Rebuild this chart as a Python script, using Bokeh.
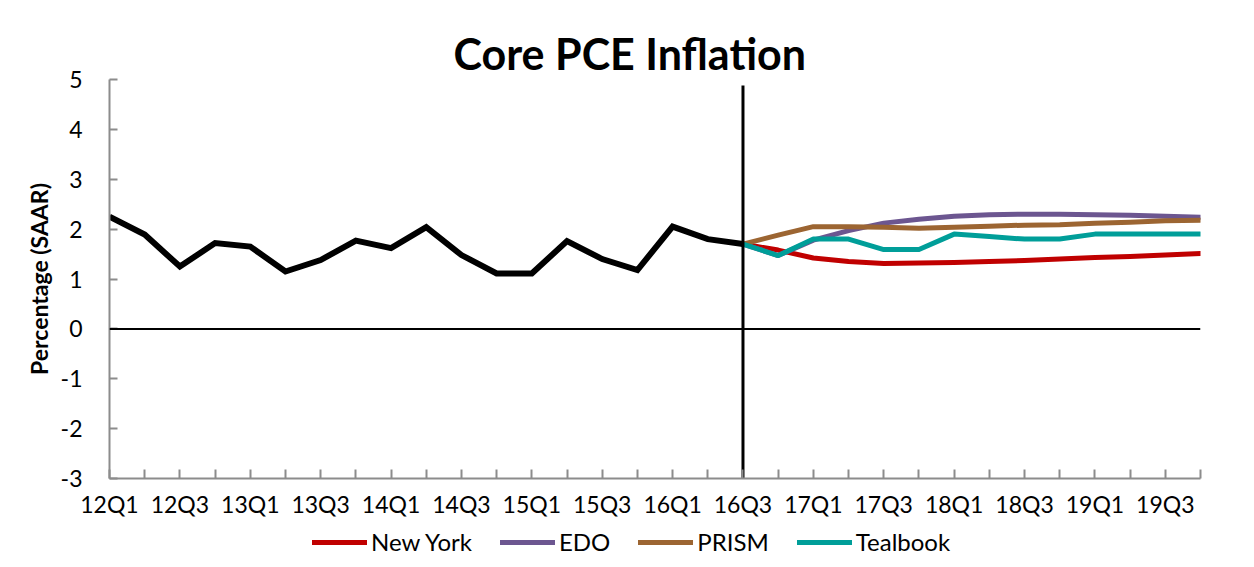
from bokeh.plotting import figure
from bokeh.layouts import column
from bokeh.models import (Range1d, FixedTicker, Span, Legend, LegendItem, Title)
from bokeh.embed import file_html
from bokeh.resources import INLINE

quarters = ["12Q1", "12Q2", "12Q3", "12Q4", "13Q1", "13Q2", "13Q3", "13Q4",
            "14Q1", "14Q2", "14Q3", "14Q4", "15Q1", "15Q2", "15Q3", "15Q4",
            "16Q1", "16Q2", "16Q3", "16Q4", "17Q1", "17Q2", "17Q3", "17Q4",
            "18Q1", "18Q2", "18Q3", "18Q4", "19Q1", "19Q2", "19Q3", "19Q4"]

history = [2.25, 1.89, 1.25, 1.72, 1.65, 1.15, 1.38, 1.77, 1.62, 2.04,
           1.48, 1.11, 1.11, 1.76, 1.40, 1.18, 2.05, 1.80, 1.70]

forecast_start = "16Q3"
new_york = [1.70, 1.58, 1.42, 1.35, 1.31, 1.32, 1.33, 1.35, 1.37, 1.40, 1.43, 1.45, 1.48, 1.51]
edo      = [1.70, 1.47, 1.78, 1.97, 2.12, 2.20, 2.26, 2.29, 2.30, 2.30, 2.29, 2.28, 2.26, 2.24]
prism    = [1.70, 1.88, 2.05, 2.05, 2.04, 2.02, 2.04, 2.06, 2.08, 2.09, 2.12, 2.14, 2.17, 2.18]
tealbook = [1.70, 1.47, 1.80, 1.80, 1.59, 1.59, 1.90, 1.85, 1.80, 1.80, 1.90, 1.90, 1.90, 1.90]

series_names = ["New York", "EDO", "PRISM", "Tealbook"]
series_colors = ["#C00000", "#6C5690", "#9C6532", "#009E99"]

y_ticks = [5, 4, 3, 2, 1, 0, -1, -2, -3]
y_tick_labels = ["5", "4", "3", "2", "1", "0", "-1", "-2", "-3"]

FONT = "Lato"
TOTAL_W = 109 + 1091 + 45

p = figure(frame_width=1091, frame_height=399, output_backend="svg", toolbar_location=None,
           x_range=Range1d(0, len(quarters) - 1), y_range=Range1d(-3, 5),
           min_border_left=109, min_border_top=79, min_border_right=45, min_border_bottom=45)

p.title = Title(text="Core PCE Inflation", align="left", text_font=FONT,
                text_font_size="43px", text_font_style="bold", text_color="black",
                standoff=2, offset=344)
p.outline_line_color = None
p.grid.grid_line_color = None
p.background_fill_color = "white"
p.border_fill_color = "white"

# x axis
xa = p.xaxis[0]
xa.ticker = FixedTicker(ticks=list(range(len(quarters))))
xa.major_label_overrides = {i: (q if i % 2 == 0 else "") for i, q in enumerate(quarters)}
xa.major_tick_in = 9
xa.major_tick_out = 0
xa.minor_tick_line_color = None
xa.axis_line_color = "#8C8C8C"
xa.axis_line_width = 2
xa.major_tick_line_color = "#8C8C8C"
xa.major_tick_line_width = 2
xa.major_label_text_font = FONT
xa.major_label_text_font_size = "23px"
xa.major_label_text_color = "black"
xa.major_label_standoff = 11

# y axis
ya = p.yaxis[0]
ya.ticker = FixedTicker(ticks=y_ticks)
ya.major_label_overrides = dict(zip(y_ticks, y_tick_labels))
ya.major_tick_in = 8
ya.major_tick_out = 0
ya.minor_tick_line_color = None
ya.axis_line_color = "#8C8C8C"
ya.axis_line_width = 2
ya.major_tick_line_color = "#8C8C8C"
ya.major_tick_line_width = 2
ya.major_label_text_font = FONT
ya.major_label_text_font_size = "23px"
ya.major_label_text_color = "black"
ya.major_label_standoff = 27
ya.axis_label = "Percentage (SAAR)"
ya.axis_label_text_font = FONT
ya.axis_label_text_font_size = "23px"
ya.axis_label_text_font_style = "bold"
ya.axis_label_text_color = "black"
ya.axis_label_standoff = 5

# zero line
p.add_layout(Span(location=0, dimension="width", line_color="black", line_width=2))

start = quarters.index(forecast_start)
fx = list(range(start, start + len(new_york)))
for vals, col in zip([new_york, edo, prism, tealbook], series_colors):
    p.line(fx, vals, line_color=col, line_width=5, line_join="round", line_cap="round")

p.line(list(range(len(history))), history, line_color="black", line_width=6, line_join="miter")

# forecast divider
p.segment(x0=[start], y0=[-3], x1=[start], y1=[4.88], line_color="black", line_width=3)

# legend strip below the chart (its frame is aligned with the chart's frame)
lg = figure(width=TOTAL_W, height=44, output_backend="svg", toolbar_location=None,
            x_range=Range1d(0, 1), y_range=Range1d(0, 1),
            x_axis_location=None, y_axis_location=None, min_border=0)
lg.outline_line_color = None
lg.grid.grid_line_color = None
lg.background_fill_color = "white"
lg.border_fill_color = "white"
# legend swatch renderers: their points lie outside the visible range, only the swatches show
leg_renderers = [lg.line([5, 6], [5, 6], line_color=c, line_width=5, line_cap="round")
                 for c in series_colors]

legend = Legend(items=[LegendItem(label=n, renderers=[r]) for n, r in zip(series_names, leg_renderers)],
                orientation="horizontal", location=(203, 11),
                label_text_font=FONT, label_text_font_size="24px", label_text_color="black",
                glyph_width=55, glyph_height=22, spacing=28, label_standoff=4,
                padding=2, margin=0, border_line_color=None, background_fill_alpha=0)
lg.add_layout(legend)

open("out.html", "w").write(file_html(column(p, lg, spacing=0), INLINE))
